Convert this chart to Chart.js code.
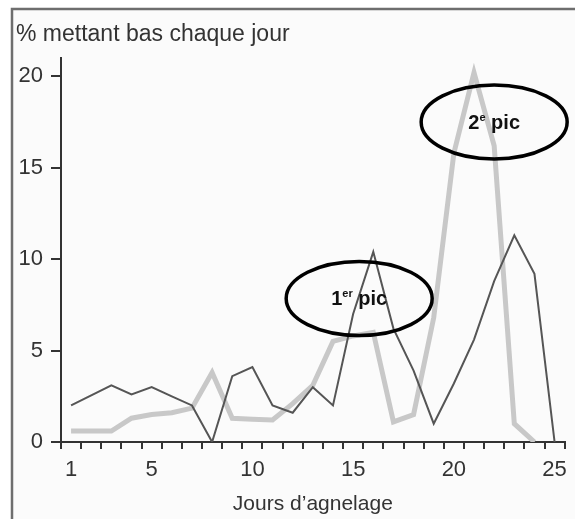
<!DOCTYPE html>
<html>
<head>
<meta charset="utf-8">
<script src="https://cdn.jsdelivr.net/npm/chart.js@4"></script>
<style>
  html, body { margin: 0; padding: 0; background: #fff; }
  canvas { display: block; }
</style>
</head>
<body>
<canvas id="agnelage-chart" width="575" height="519"></canvas>
<script>
const days = ['1','2','3','4','5','6','7','8','9','10','11','12','13','14','15','16','17','18','19','20','21','22','23','24','25'];
const shownDays = ['1', '5', '10', '15', '20', '25'];
const yTicks = [0, 5, 10, 15, 20];

// thin dark line
const darkValues = [2.0, 2.55, 3.1, 2.6, 3.0, 2.5, 2.0, 0, 3.6, 4.1, 2.0, 1.6, 3.0, 2.0, 7.0, 10.4, 6.2, 3.9, 1.0, 3.2, 5.6, 8.8, 11.3, 9.2, 0];
// thick light grey line
const lightValues = [0.6, 0.6, 0.6, 1.3, 1.5, 1.6, 1.85, 3.8, 1.3, 1.25, 1.2, 2.1, 3.1, 5.5, 5.8, 6.0, 1.1, 1.5, 6.8, 15.8, 20.2, 16.2, 1.0, 0, null];

// circled notes on the two peaks
const peakMain = ['1', '2'];
const peakSup = ['er', 'e'];
const peakDay = [15.3, 22.0];
const peakValue = [7.85, 17.5];

const font = "'Liberation Sans', Arial, sans-serif";
const ink = '#333';

const framePlugin = {
  id: 'frame',
  beforeDraw(chart) {
    const ctx = chart.ctx;
    ctx.save();
    ctx.fillStyle = '#fff';
    ctx.fillRect(0, 0, chart.width, chart.height);
    ctx.fillStyle = '#fbfbfb';
    ctx.fillRect(13, 10, chart.width - 13, chart.height - 10);
    ctx.strokeStyle = '#6e6e6e';
    ctx.lineWidth = 2.5;
    ctx.beginPath();
    ctx.moveTo(chart.width, 9);
    ctx.lineTo(12, 9);
    ctx.lineTo(12, chart.height);
    ctx.stroke();
    ctx.restore();
  }
};

const peakPlugin = {
  id: 'peaks',
  afterDatasetsDraw(chart) {
    const ctx = chart.ctx;
    const xs = chart.scales.x, ys = chart.scales.y;
    ctx.save();
    for (let i = 0; i < peakMain.length; i++) {
      const cx = xs.getPixelForValue(peakDay[i] - 1);
      const cy = ys.getPixelForValue(peakValue[i]);
      ctx.beginPath();
      ctx.ellipse(cx, cy, 73, 37, 0, 0, Math.PI * 2);
      ctx.strokeStyle = '#000';
      ctx.lineWidth = 3.5;
      ctx.stroke();

      const big = 'bold 20px ' + font, small = 'bold 11px ' + font;
      ctx.font = big;
      const w1 = ctx.measureText(peakMain[i]).width;
      const w3 = ctx.measureText(' pic').width;
      ctx.font = small;
      const w2 = ctx.measureText(peakSup[i]).width;
      let x = cx - (w1 + w2 + w3) / 2;
      const base = cy + 7;
      ctx.fillStyle = '#111';
      ctx.textBaseline = 'alphabetic';
      ctx.textAlign = 'left';
      ctx.font = big;
      ctx.fillText(peakMain[i], x, base);
      x += w1;
      ctx.font = small;
      ctx.fillText(peakSup[i], x, base - 8);
      x += w2;
      ctx.font = big;
      ctx.fillText(' pic', x, base);
    }
    ctx.restore();
  }
};

const data = {
  labels: days,
  datasets: [{
    label: 'dark',
    data: darkValues,
    borderColor: '#555',
    borderWidth: 2,
    pointRadius: 0,
    tension: 0,
    fill: false
  }, {
    label: 'light',
    data: lightValues,
    borderColor: '#c8c8c8',
    borderWidth: 5,
    pointRadius: 0,
    tension: 0,
    fill: false
  }]
};

const config = {
  type: 'line',
  data: data,
  options: {
    responsive: false,
    animation: false,
    layout: { padding: { left: 16, right: 8, top: 10, bottom: 0 } },
    plugins: {
      legend: { display: false },
      tooltip: { enabled: false },
      title: {
        display: true,
        text: '% mettant bas chaque jour',
        align: 'start',
        color: ink,
        font: { family: font, size: 23, weight: 'normal' },
        padding: { top: 10.7, bottom: 9.7 }
      }
    },
    scales: {
      x: {
        type: 'category',
        offset: true,
        grid: { offset: true, drawOnChartArea: false, drawTicks: true, tickLength: 7, color: ink, lineWidth: 2 },
        border: { display: true, color: ink, width: 2 },
        ticks: {
          autoSkip: false,
          maxRotation: 0,
          padding: 8,
          color: ink,
          font: { family: font, size: 22 },
          callback: function (v) {
            const d = this.getLabelForValue(v);
            return shownDays.includes(d) ? d : '';
          }
        },
        title: {
          display: true,
          text: 'Jours d\u2019agnelage',
          color: ink,
          font: { family: font, size: 21 },
          padding: { top: 0, bottom: 2 }
        },
        afterFit(scale) { scale.height = 77; }
      },
      y: {
        min: 0,
        max: 21,
        grid: { drawOnChartArea: false, drawTicks: true, tickLength: 10, color: ink, lineWidth: 2 },
        border: { display: true, color: ink, width: 2 },
        ticks: {
          padding: 8,
          color: ink,
          font: { family: font, size: 22 }
        },
        afterBuildTicks(scale) { scale.ticks = yTicks.map(v => ({ value: v })); },
        afterFit(scale) { scale.width = 45; }
      }
    }
  },
  plugins: [framePlugin, peakPlugin]
};

let obj = document.getElementById('agnelage-chart');
let agnelage = new Chart(obj, config);
</script>
</body>
</html>
